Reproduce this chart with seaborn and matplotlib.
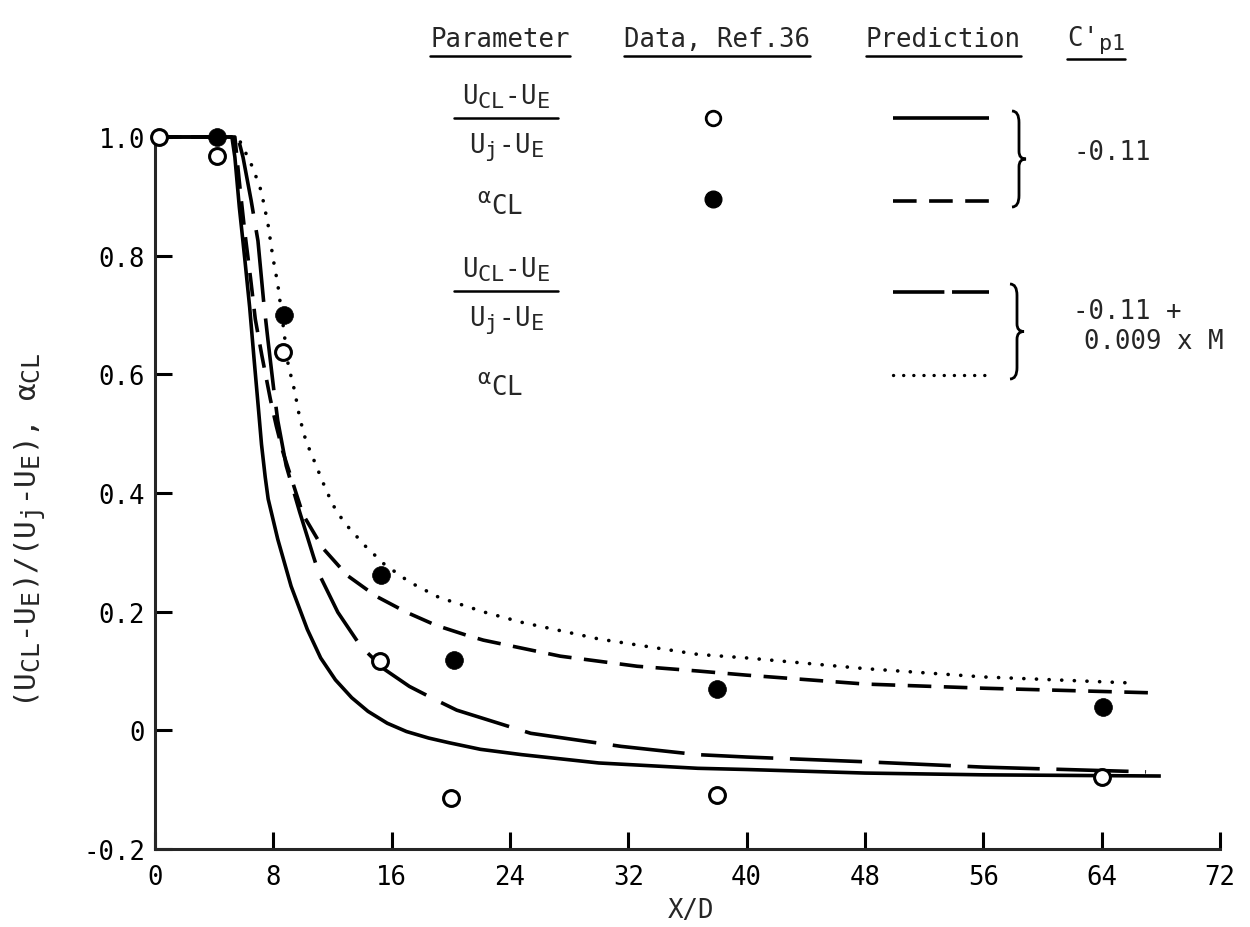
import numpy as np
import pandas as pd
import matplotlib
matplotlib.use("Agg")
import matplotlib.pyplot as plt
import seaborn as sns
from matplotlib.lines import Line2D
from matplotlib.path import Path
from matplotlib.patches import PathPatch
try:
    import matplotlib._mathtext as _mt
    _mt.SHRINK_FACTOR = 0.85
except Exception:
    pass

# ---------------- data ----------------
x_ticks = [0, 8, 16, 24, 32, 40, 48, 56, 64, 72]
y_ticks = [-0.2, 0.0, 0.2, 0.4, 0.6, 0.8, 1.0]
y_tick_labels = ["-0.2", "0", "0.2", "0.4", "0.6", "0.8", "1.0"]

# measured data, Ref. 36
open_x = [0.3, 4.2, 8.65, 15.2, 20.0, 38.0, 64.0]          # (U_CL-U_E)/(U_j-U_E)
open_y = [1.0, 0.968, 0.637, 0.117, -0.114, -0.109, -0.079]
filled_x = [4.2, 8.7, 15.3, 20.2, 38.0, 64.1]              # alpha_CL
filled_y = [1.0, 0.700, 0.262, 0.119, 0.069, 0.039]

# predictions, C'p1 = -0.11
solid_x = [0, 5.2, 5.4, 5.7, 6.06, 6.4, 6.7, 7.0, 7.2, 7.45, 7.65, 8.3, 9.2, 10.3,
           11.2, 12.2, 13.3, 14.4, 15.7, 17.0, 18.5, 19.9, 22.0, 24.8, 30.0, 36.7,
           40, 48, 56, 68]
solid_y = [1.0, 1.0, 0.966, 0.882, 0.797, 0.713, 0.625, 0.54, 0.482, 0.427, 0.39,
           0.322, 0.243, 0.170, 0.122, 0.085, 0.055, 0.032, 0.012, -0.002, -0.013,
           -0.021, -0.032, -0.041, -0.055, -0.064, -0.066, -0.072, -0.075, -0.077]
sdash_x = [0, 5.4, 5.7, 6.06, 6.46, 6.78, 7.23, 7.8, 8.2, 8.65, 10.0, 11.35, 13.0,
           14.95, 17.0, 19.0, 21.1, 22.2, 27.4, 32.6, 36.7, 40, 48, 56, 67.7]
sdash_y = [1.0, 1.0, 0.925, 0.842, 0.762, 0.693, 0.631, 0.558, 0.513, 0.469, 0.364,
           0.307, 0.261, 0.226, 0.199, 0.177, 0.160, 0.152, 0.125, 0.108, 0.100,
           0.093, 0.078, 0.071, 0.063]
# predictions, C'p1 = -0.11 + 0.009 x M
ldash_x = [0, 5.6, 5.95, 6.5, 6.96, 7.34, 7.64, 8.04, 8.3, 8.87, 9.78, 10.7, 11.1,
           12.36, 13.9, 15.5, 17.2, 19.0, 20.4, 25.4, 31.5, 36.7, 40, 48, 56, 67]
ldash_y = [1.0, 1.0, 0.966, 0.893, 0.825, 0.724, 0.657, 0.572, 0.522, 0.446, 0.368,
           0.294, 0.263, 0.199, 0.142, 0.103, 0.074, 0.051, 0.034, -0.005, -0.027,
           -0.041, -0.045, -0.053, -0.062, -0.070]
dot_x = [0, 5.6, 6.06, 6.6, 7.18, 7.64, 7.97, 8.3, 8.65, 9.0, 9.44, 9.78, 10.2,
         10.8, 11.35, 12.0, 12.8, 14.2, 15.5, 17.2, 19.2, 22.3, 24.8, 30.0, 36.7,
         40, 48, 56, 65.8]
dot_y = [1.0, 1.0, 0.977, 0.949, 0.909, 0.853, 0.797, 0.752, 0.685, 0.617, 0.572,
         0.527, 0.488, 0.452, 0.418, 0.381, 0.350, 0.311, 0.280, 0.250, 0.224,
         0.199, 0.182, 0.154, 0.128, 0.122, 0.104, 0.090, 0.080]

# ---------------- style ----------------
sns.set_style("ticks")
plt.rcParams["font.family"] = ["DejaVu Sans Mono", "DejaVu Sans"]
plt.rcParams["mathtext.default"] = "regular"
plt.rcParams["lines.scale_dashes"] = False

W, H = 1250, 928
FS = 18.5
fig = plt.figure(figsize=(W / 100, H / 100), dpi=100)
ax = fig.add_axes([155 / W, 1 - 850 / H, (1220 - 155) / W, (850 - 138) / H])

LW = 2.6
styles = [
    (solid_x, solid_y, "-", "butt"),
    (sdash_x, sdash_y, (0, (17, 9)), "butt"),
    (ldash_x, ldash_y, (0, (52, 12)), "butt"),
    (dot_x, dot_y, (0, (0.1, 9)), "round"),
]
for xs, ys, ls, cap in styles:
    df = pd.DataFrame({"x": xs, "y": ys})
    sns.lineplot(data=df, x="x", y="y", ax=ax, color="black", sort=False,
                 estimator=None, lw=LW, clip_on=False)
    ln = ax.lines[-1]
    ln.set_linestyle(ls)
    ln.set_dash_capstyle(cap)
    ln.set_solid_capstyle("butt")
    ln.set_solid_joinstyle("round")
    ln.set_dash_joinstyle("round")

sns.scatterplot(x=open_x, y=open_y, ax=ax, marker="o", s=130, facecolor="white",
                edgecolor="black", linewidth=2.2, zorder=4, clip_on=False)
sns.scatterplot(x=filled_x, y=filled_y, ax=ax, marker="o", s=165, color="black",
                edgecolor="black", linewidth=0.5, zorder=5, clip_on=False)

ax.set_xlim(0, 72)
ax.set_ylim(-0.2, 1.0)
ax.set_xticks(x_ticks)
ax.set_xticklabels([str(v) for v in x_ticks])
ax.set_yticks(y_ticks)
ax.set_yticklabels(y_tick_labels)
sns.despine(ax=ax)
for s in ["left", "bottom"]:
    ax.spines[s].set_linewidth(2.2)
ax.tick_params(direction="in", length=12, width=2.2, labelsize=FS, colors="black")
ax.tick_params(axis="x", pad=11)
ax.tick_params(axis="y", pad=7)
ax.set_xlabel("")
ax.set_ylabel("")

fig.text(691 / W, 1 - 911 / H, "X/D", ha="center", va="center", fontsize=FS)
fig.text(30 / W, 1 - 530 / H,
         "(U$_{CL}$-U$_E$)/(U$_j$-U$_E$), α$_{CL}$",
         rotation=90, ha="center", va="center", fontsize=21)

# ---------------- table-like legend ----------------
def P(x, y):
    return (x / W, 1 - y / H)

def ftext(x, y, s, **kw):
    kw.setdefault("fontsize", FS)
    return fig.text(*P(x, y), s, **kw)

def fline(x0, x1, y, **kw):
    kw.setdefault("color", "black")
    kw.setdefault("lw", 2.0)
    fig.add_artist(Line2D([x0 / W, x1 / W], [1 - y / H, 1 - y / H],
                          transform=fig.transFigure, **kw))

headers = [("Parameter", 500), ("Data, Ref.36", 717), ("Prediction", 943),
           ("C'$_{p1}$", 1096)]
htexts = []
for s, cx in headers:
    htexts.append(ftext(cx, 40, s, ha="center", va="center"))
fig.canvas.draw()
r = fig.canvas.get_renderer()
for t in htexts:
    bb = t.get_window_extent(r)
    fline(bb.x0, bb.x1, H - bb.y0 + 4, lw=1.8)

def fraction(cx, ytop):
    ftext(cx, ytop, "U$_{CL}$-U$_E$", ha="center", va="center")
    fline(cx - 52, cx + 52, ytop + 22, lw=1.8)
    ftext(cx, ytop + 50, "U$_j$-U$_E$", ha="center", va="center")

fraction(506, 97)
ftext(500, 207, "$^{α}$CL", ha="center", va="center")
fraction(506, 270)
ftext(500, 388, "$^{α}$CL", ha="center", va="center")

# symbols
ax_sym = fig.add_axes([0, 0, 1, 1], facecolor="none")
ax_sym.set_axis_off()
ax_sym.set_xlim(0, W)
ax_sym.set_ylim(H, 0)
ax_sym.plot([713], [119], marker="o", ms=10.5, mfc="white", mec="black", mew=2.0, ls="none")
ax_sym.plot([713], [200], marker="o", ms=12, mfc="black", mec="black", ls="none")

ax_sym.plot([893, 989], [119, 119], color="black", lw=LW, solid_capstyle="butt")
ax_sym.plot([893, 989], [202, 202], color="black", lw=LW, ls=(0, (17, 9)))
ax_sym.plot([893, 989], [293, 293], color="black", lw=LW, ls=(0, (37, 5.5)))
ax_sym.plot([893, 989], [376, 376], color="black", lw=2.4, ls=(0, (0.1, 7.2)),
            dash_capstyle="round")

def brace(x0, top, bot, w=14):
    mid = (top + bot) / 2
    h = bot - top
    xm = x0 + w * 0.5
    verts = [(x0, top), (xm, top), (xm, top + h * 0.12),
             (xm, mid - h * 0.08), (xm, mid), (x0 + w, mid),
             (xm, mid), (xm, mid + h * 0.08),
             (xm, bot - h * 0.12), (xm, bot), (x0, bot)]
    codes = [Path.MOVETO, Path.CURVE3, Path.CURVE3,
             Path.LINETO, Path.CURVE3, Path.CURVE3,
             Path.CURVE3, Path.CURVE3,
             Path.LINETO, Path.CURVE3, Path.CURVE3]
    ax_sym.add_patch(PathPatch(Path(verts, codes), fill=False, lw=2.0,
                               edgecolor="black"))

brace(1012, 112, 208)
brace(1010, 285, 380)

ftext(1073, 153, "-0.11", ha="left", va="center")
ftext(1073, 312, "-0.11 +", ha="left", va="center")
ftext(1084, 342, "0.009 x M", ha="left", va="center")

fig.savefig("out.png", dpi=100)
